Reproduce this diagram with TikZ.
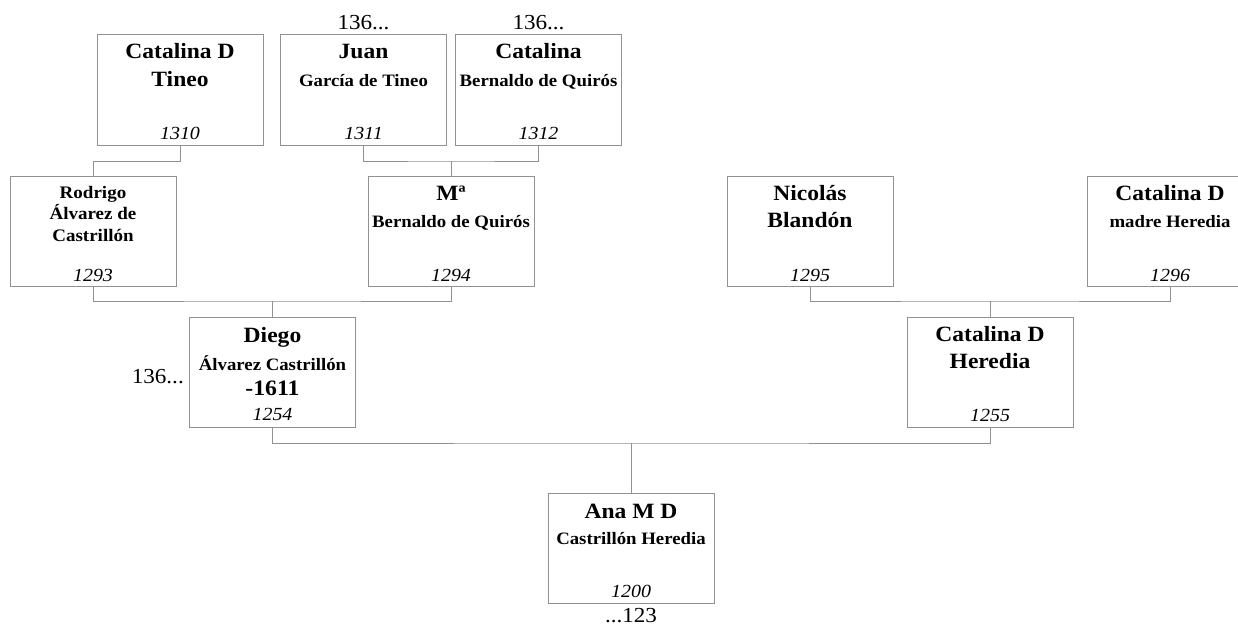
\documentclass[tikz,border=0pt]{standalone}
\usepackage{fontspec}
\setmainfont{Liberation Serif}[FakeStretch=1.08]
\usepackage{tikz}
\usetikzlibrary{positioning}
\definecolor{linegray}{RGB}{145,145,145}

\begin{document}
\begin{tikzpicture}[
    x=1pt, y=-1pt,
    person/.style={rectangle, draw=linegray, line width=1pt, minimum width=166pt, minimum height=110pt, inner sep=0pt},
    link/.style={draw=linegray, line width=1pt},
    nameline/.style={anchor=base, inner sep=0pt, font=\bfseries\fontsize{21.8}{24}\selectfont},
    subline/.style={anchor=base, inner sep=0pt, font=\bfseries\fontsize{17.4}{20}\selectfont},
    rodline/.style={anchor=base, inner sep=0pt, font=\bfseries\fontsize{17.6}{20}\selectfont},
    yearline/.style={anchor=base, inner sep=0pt, font=\bfseries\fontsize{22}{24}\selectfont},
    numline/.style={anchor=base, inner sep=0pt, font=\itshape\fontsize{18.5}{20}\selectfont},
    moreline/.style={anchor=base, inner sep=0pt, font=\fontsize{21.4}{24}\selectfont}
]
\useasboundingbox (0,0) rectangle (1238,626);

% Persons
\node[person] (p1310) at (180,90) {};
\node[person] (p1311) at (363.5,90) {};
\node[person] (p1312) at (538.5,90) {};
\node[person] (p1293) at (93,231) {};
\node[person] (p1294) at (451,231) {};
\node[person] (p1295) at (810,231) {};
\node[person] (p1296) at (1170,231) {};
\node[person] (p1254) at (272.5,372) {};
\node[person] (p1255) at (990,372) {};
\node[person] (p1200) at (631,548) {};

% Texts
\node[nameline] (n1310a) at (180,59) {Catalina D};
\node[nameline] (n1310b) at (180,86) {Tineo};
\node[numline] (n1310c) at (180,139) {1310};
\node[nameline] (n1311a) at (363.5,59) {Juan};
\node[subline] (n1311b) at (363.5,86) {García de Tineo};
\node[numline] (n1311c) at (363.5,139) {1311};
\node[nameline] (n1312a) at (538.5,59) {Catalina};
\node[subline] (n1312b) at (538.5,86) {Bernaldo de Quirós};
\node[numline] (n1312c) at (538.5,139) {1312};
\node[moreline] (t1311) at (363.5,30) {136...};
\node[moreline] (t1312) at (538.5,30) {136...};

\node[rodline] (n1293a) at (93,198) {Rodrigo};
\node[rodline] (n1293b) at (93,219.5) {Álvarez de};
\node[rodline] (n1293c) at (93,241) {Castrillón};
\node[numline] (n1293d) at (93,281) {1293};
\node[nameline] (n1294a) at (451,200) {Mª};
\node[subline] (n1294b) at (451,227) {Bernaldo de Quirós};
\node[numline] (n1294c) at (451,281) {1294};
\node[nameline] (n1295a) at (810,200) {Nicolás};
\node[nameline] (n1295b) at (810,227) {Blandón};
\node[numline] (n1295c) at (810,281) {1295};
\node[nameline] (n1296a) at (1170,200) {Catalina D};
\node[subline] (n1296b) at (1170,227) {madre Heredia};
\node[numline] (n1296c) at (1170,281) {1296};

\node[nameline] (n1254a) at (272.5,342) {Diego};
\node[subline] (n1254b) at (272.5,370) {Álvarez Castrillón};
\node[yearline] (n1254c) at (272.5,395) {-1611};
\node[numline] (n1254d) at (272.5,420) {1254};
\node[moreline, anchor=base east] (t1254) at (184,383) {136...};
\node[nameline] (n1255a) at (990,341) {Catalina D};
\node[nameline] (n1255b) at (990,368) {Heredia};
\node[numline] (n1255c) at (990,421.5) {1255};

\node[nameline] (n1200a) at (631,518) {Ana M D};
\node[subline] (n1200b) at (631,544) {Castrillón Heredia};
\node[numline] (n1200c) at (631,597.5) {1200};
\node[moreline] (t1200) at (631,622) {...123};

% Links
\coordinate (c1294) at (451,161);
\coordinate (c1254) at (272.5,301);
\coordinate (c1255) at (990,301);
\coordinate (c1200) at (631,443);

\draw[link] (p1310.south) -- ++(0,16) -| (p1293.north);
\draw[link] (p1311.south) |- (c1294) -| (p1312.south);
\draw[link] (c1294) -- (p1294.north);
\draw[link] (p1293.south) |- (c1254) -| (p1294.south);
\draw[link] (c1254) -- (p1254.north);
\draw[link] (p1295.south) |- (c1255) -| (p1296.south);
\draw[link] (c1255) -- (p1255.north);
\draw[link] (p1254.south) |- (c1200) -| (p1255.south);
\draw[link] (c1200) -- (p1200.north);

\end{tikzpicture}
\end{document}
